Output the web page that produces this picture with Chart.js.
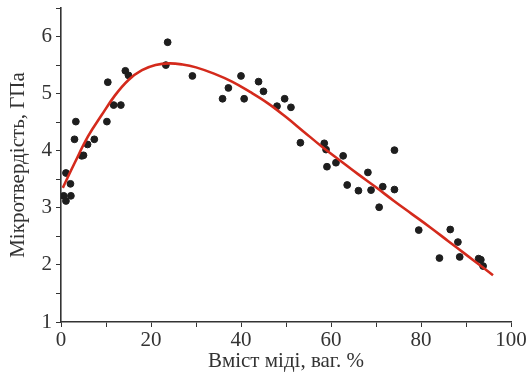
<!DOCTYPE html>
<html>
<head>
<meta charset="utf-8">
<script src="https://cdn.jsdelivr.net/npm/chart.js@4"></script>
<style>
    html, body { margin: 0; padding: 0; background: #fff; }
    #wrap { width: 529px; height: 376px; }
</style>
</head>
<body>
<div id="wrap"><canvas id="hardnessChart"></canvas></div>
<script>
// Measured points: copper content (wt. %) and microhardness (GPa)
const copperX = [0.6, 1.1, 1.1, 2.1, 2.2, 3.0, 3.3, 4.6, 5.0, 5.9, 7.4, 10.2, 10.4, 11.7, 13.3, 14.3, 15.0,
    23.3, 23.7, 29.2, 35.9, 37.2, 40.0, 40.7, 43.9, 45.0, 48.0, 49.7, 51.1, 53.2,
    58.5, 58.9, 59.1, 61.1, 62.7, 63.6, 66.1, 68.2, 68.9, 70.7, 71.5, 74.1, 74.1,
    79.5, 84.1, 86.5, 88.2, 88.6, 92.8, 93.3, 93.8];
const hardnessY = [3.21, 3.61, 3.12, 3.42, 3.21, 4.2, 4.51, 3.91, 3.92, 4.11, 4.2, 4.51, 5.2, 4.8, 4.8, 5.4, 5.32,
    5.5, 5.9, 5.31, 4.91, 5.1, 5.31, 4.91, 5.21, 5.04, 4.78, 4.91, 4.76, 4.14,
    4.13, 4.02, 3.72, 3.79, 3.91, 3.4, 3.3, 3.62, 3.31, 3.01, 3.37, 3.32, 4.01,
    2.61, 2.12, 2.62, 2.4, 2.14, 2.11, 2.09, 1.98];

// Fitted curve (red)
const fitX = [0.4, 3, 6, 9, 12, 15, 18, 21, 24, 27, 30, 34, 38, 42, 46, 50, 54, 58, 62, 66, 70, 74, 78, 82, 86, 90, 94, 96];
const fitY = [3.35, 3.78, 4.25, 4.62, 4.97, 5.24, 5.41, 5.50, 5.53, 5.51, 5.46, 5.35, 5.21, 5.03, 4.83, 4.59, 4.33, 4.07, 3.83, 3.59, 3.36, 3.12, 2.89, 2.66, 2.42, 2.18, 1.94, 1.82];

// Tick labels shown on the axes
const xTicks = [0, 20, 40, 60, 80, 100];
const yTicks = [1, 2, 3, 4, 5, 6];

const axisColor = '#333';
const fontFamily = '"Liberation Serif", "DejaVu Serif", serif';

const toPoints = (xs, ys) => xs.map((x, i) => ({ x: x, y: ys[i] }));

const ctx = document.getElementById('hardnessChart');
new Chart(ctx, {
    type: 'scatter',
    data: {
        datasets: [{
            label: 'Експеримент',
            data: toPoints(copperX, hardnessY),
            backgroundColor: '#1e1e1e',
            borderColor: '#1e1e1e',
            pointRadius: 3.4,
            pointHoverRadius: 3.4,
            order: 2
        }, {
            label: 'Апроксимація',
            data: toPoints(fitX, fitY),
            showLine: true,
            borderColor: '#d42a1c',
            borderWidth: 2.6,
            pointRadius: 0,
            tension: 0.4,
            fill: false,
            order: 1
        }]
    },
    options: {
        responsive: true,
        maintainAspectRatio: false,
        animation: false,
        layout: {
            padding: { top: 8, right: 18, bottom: 0, left: 0 }
        },
        plugins: {
            legend: { display: false },
            tooltip: { enabled: false }
        },
        scales: {
            x: {
                type: 'linear',
                min: 0,
                max: 100,
                afterFit: (scale) => { scale.height = 54; },
                border: { color: axisColor, width: 1.6 },
                grid: {
                    drawOnChartArea: false,
                    drawTicks: true,
                    tickLength: 5,
                    color: axisColor
                },
                ticks: {
                    stepSize: 10,
                    autoSkip: false,
                    maxRotation: 0,
                    padding: 1,
                    color: axisColor,
                    font: { family: fontFamily, size: 21 },
                    callback: (value) => xTicks.includes(value) ? String(value) : ''
                },
                title: {
                    display: true,
                    text: 'Вміст міді, ваг. %',
                    color: axisColor,
                    font: { family: fontFamily, size: 21 },
                    padding: { top: 0, bottom: 2 }
                }
            },
            y: {
                type: 'linear',
                min: 1,
                max: 6.5,
                afterFit: (scale) => {
                    scale.width = 61;
                    scale.paddingTop = 0;
                    scale.paddingBottom = 0;
                },
                border: { color: axisColor, width: 1.6 },
                grid: {
                    drawOnChartArea: false,
                    drawTicks: true,
                    tickLength: 5,
                    color: axisColor
                },
                ticks: {
                    stepSize: 0.5,
                    autoSkip: false,
                    padding: 4,
                    color: axisColor,
                    font: { family: fontFamily, size: 21 },
                    callback: (value) => yTicks.includes(value) ? String(value) : ''
                },
                title: {
                    display: true,
                    text: 'Мікротвердість, ГПа',
                    color: axisColor,
                    font: { family: fontFamily, size: 21 },
                    padding: { top: 6, bottom: 0 }
                }
            }
        }
    }
});
</script>
</body>
</html>
